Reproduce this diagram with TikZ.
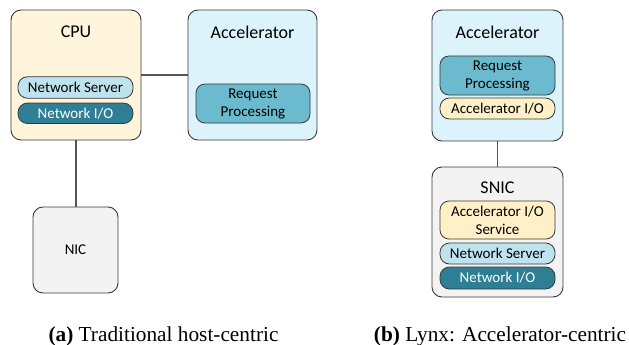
\documentclass[tikz,border=0pt]{standalone}
\usepackage{fontspec}
\setmainfont{Carlito}
\newfontfamily\capfont{Liberation Serif}
\definecolor{cpuY}{HTML}{FFF4DC}
\definecolor{accB}{HTML}{DDF3FC}
\definecolor{nsB}{HTML}{BEE3EE}
\definecolor{nioB}{HTML}{2E7F95}
\definecolor{rpB}{HTML}{6BBACE}
\definecolor{aioY}{HTML}{FFF0C8}
\definecolor{nicG}{HTML}{F3F3F3}
\definecolor{edgeG}{HTML}{3A3A3A}
\definecolor{lineG}{HTML}{555555}
\begin{document}
\begin{tikzpicture}[x=1pt,y=-1pt,
  bigbox/.style={draw=edgeG,line width=0.9pt,rounded corners=10pt,inner sep=0pt},
  pill/.style={draw=edgeG,line width=0.8pt,rounded corners=9.5pt,inner sep=0pt,minimum width=115pt,font=\fontsize{15}{16}\selectfont,align=center},
  blockbox/.style={draw=edgeG,line width=0.8pt,rounded corners=9pt,inner sep=0pt,minimum width=115pt,font=\fontsize{15}{18}\selectfont,align=center},
  title/.style={font=\fontsize{18}{20}\selectfont,inner sep=0pt},
  captext/.style={font=\capfont\fontsize{21.3}{24}\selectfont,anchor=base,inner sep=0pt},
  link/.style={draw=lineG,line width=1.2pt}]
\useasboundingbox (0,0) rectangle (629,345);
% (a)
\node[bigbox,fill=cpuY,minimum width=130pt,minimum height=130pt] (cpu) at (76,75) {};
\node[title] (cpuL) at (76,32) {CPU};
\node[pill,fill=nsB,minimum height=21.5pt] (nsa) at (75.5,87.5) {Network Server};
\node[pill,fill=nioB,text=white,minimum height=20.5pt] (nioa) at (75.5,113.3) {Network I/O};
\node[bigbox,fill=accB,minimum width=129pt,minimum height=130pt] (acca) at (252.5,75) {};
\node[title] (accaL) at (252.5,32) {Accelerator};
\node[blockbox,fill=rpB,minimum height=39pt,minimum width=114pt] (rpa) at (253,103.5) {Request\\Processing};
\node[bigbox,fill=nicG,minimum width=85pt,minimum height=86pt,font=\fontsize{15}{17}\selectfont] (nic) at (75.5,250) {NIC};
\draw[link] (cpu.east) -- (acca.west);
\draw[link] (cpu.south) -- (cpu.south |- nic.north);
\node[captext] (capa) at (163.5,341) {\textbf{(a)} Traditional host-centric};
% (b)
\node[bigbox,fill=accB,minimum width=131pt,minimum height=131pt] (accb) at (497.5,75.5) {};
\node[title] (accbL) at (497.5,32) {Accelerator};
\node[blockbox,fill=rpB,minimum height=39pt] (rpb) at (497.5,75.5) {Request\\Processing};
\node[pill,fill=aioY,minimum height=21pt] (aiob) at (497.5,108.5) {Accelerator I/O};
\node[bigbox,fill=nicG,minimum width=131pt,minimum height=130pt] (snic) at (497.5,232) {};
\node[title] (snicL) at (497.5,188) {SNIC};
\node[blockbox,fill=aioY,minimum height=38pt] (aios) at (497.5,220) {Accelerator I/O\\Service};
\node[pill,fill=nsB,minimum height=21pt] (nsb) at (497.5,253.5) {Network Server};
\node[pill,fill=nioB,text=white,minimum height=22pt] (niob) at (497.5,278) {Network I/O};
\draw[link] (accb.south) -- (snic.north);
\node[captext] (capb) at (500,341) {\textbf{(b)} Lynx: Accelerator-centric};
\end{tikzpicture}
\end{document}
